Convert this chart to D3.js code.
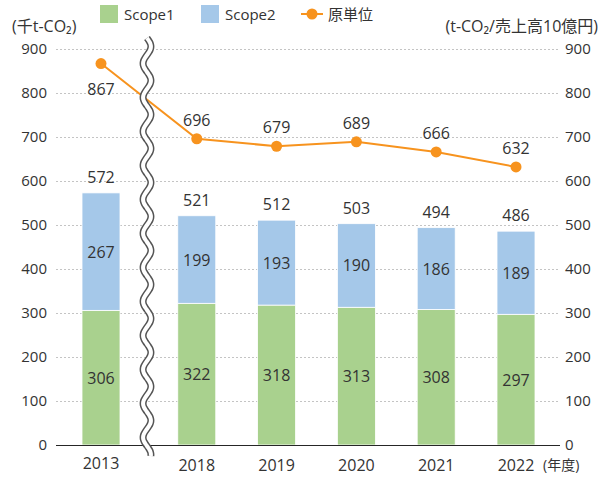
<!DOCTYPE html>
<html>
<head>
<meta charset="utf-8">
<script src="https://cdn.jsdelivr.net/npm/d3@7"></script>
<style>
  body { margin: 0; background: #ffffff; }
  svg text { font-family: "Open Sans", "Noto Sans CJK JP", sans-serif; fill: #333333; }
</style>
</head>
<body>
<div class="chart"></div>
<script>
// Data.
const years = ["2013", "2018", "2019", "2020", "2021", "2022"];
const scope1 = [306, 322, 318, 313, 308, 297];
const scope2 = [267, 199, 193, 190, 186, 189];
const totals = [572, 521, 512, 503, 494, 486];
const intensity = [867, 696, 679, 689, 666, 632];
const yTicks = [0, 100, 200, 300, 400, 500, 600, 700, 800, 900];

const width = 599, height = 478;
const plot = { left: 56, right: 560, top: 49, bottom: 445 };
const barWidth = 38;
// 2013 is separated from the rest by a break, so its slot is wider.
const breakGap = 1.2;

const svg = d3.select(".chart").append("svg")
  .attr("width", width)
  .attr("height", height);

// Slot position for each year: 0, then 1.2, 2.2, ...
const slot = years.map((d, i) => i === 0 ? 0 : i - 1 + breakGap);
const x = d3.scaleLinear()
  .domain([0, slot[slot.length - 1]])
  .range([101, 516]);
const y = d3.scaleLinear()
  .domain([0, 900])
  .range([plot.bottom, plot.top]);

// Dotted grid lines.
svg.append("g")
  .selectAll("line")
  .data(yTicks.filter(d => d > 0))
  .join("line")
  .attr("x1", plot.left)
  .attr("x2", plot.right)
  .attr("y1", d => y(d) + 0.5)
  .attr("y2", d => y(d) + 0.5)
  .attr("stroke", "#c4c4c4")
  .attr("stroke-width", 1)
  .attr("stroke-dasharray", "2,2");

// Left and right axis labels.
const leftAxis = svg.append("g")
  .attr("transform", `translate(${plot.left - 9},0)`)
  .call(d3.axisLeft(y).tickValues(yTicks).tickSize(0).tickPadding(0));
const rightAxis = svg.append("g")
  .attr("transform", `translate(${plot.right + 5},0)`)
  .call(d3.axisRight(y).tickValues(yTicks).tickSize(0).tickPadding(0));
[leftAxis, rightAxis].forEach(a => {
  a.select(".domain").remove();
  a.selectAll("text").style("font-size", "15px").attr("fill", "#333333");
});

// Stacked bars.
const rows = years.map((yr, i) => ({ yr, i, s1: scope1[i], s2: scope2[i], total: totals[i] }));
const bars = svg.append("g");
bars.selectAll(".s1")
  .data(rows)
  .join("rect")
  .attr("class", "s1")
  .attr("x", d => x(slot[d.i]) - barWidth / 2)
  .attr("y", d => y(d.s1))
  .attr("width", barWidth)
  .attr("height", d => y(0) - y(d.s1))
  .attr("fill", "#a9d18e")
  .attr("stroke", "#ffffff")
  .attr("stroke-width", 0.8);
bars.selectAll(".s2")
  .data(rows)
  .join("rect")
  .attr("class", "s2")
  .attr("x", d => x(slot[d.i]) - barWidth / 2)
  .attr("y", d => y(d.s1 + d.s2))
  .attr("width", barWidth)
  .attr("height", d => y(d.s1) - y(d.s1 + d.s2))
  .attr("fill", "#a5c8e9")
  .attr("stroke", "#ffffff")
  .attr("stroke-width", 0.8);

// Baseline.
svg.append("line")
  .attr("x1", plot.left)
  .attr("x2", plot.right)
  .attr("y1", y(0) + 0.5)
  .attr("y2", y(0) + 0.5)
  .attr("stroke", "#262626")
  .attr("stroke-width", 1.2);

// Bar value labels.
const labels = svg.append("g")
  .attr("text-anchor", "middle")
  .style("font-size", "16px");
labels.selectAll(".l1")
  .data(rows)
  .join("text")
  .attr("x", d => x(slot[d.i]))
  .attr("y", d => y(d.s1 / 2) + 6)
  .text(d => d.s1);
labels.selectAll(".l2")
  .data(rows)
  .join("text")
  .attr("x", d => x(slot[d.i]))
  .attr("y", d => y(d.s1 + d.s2 / 2) + 6)
  .text(d => d.s2);
labels.selectAll(".lt")
  .data(rows)
  .join("text")
  .attr("x", d => x(slot[d.i]))
  .attr("y", d => y(d.total) - 10)
  .text(d => d.total);

// Intensity line on the right axis (same 0-900 range).
const line = d3.line()
  .x((d, i) => x(slot[i]))
  .y(d => y(d));
svg.append("path")
  .datum(intensity)
  .attr("d", line)
  .attr("fill", "none")
  .attr("stroke", "#f7931e")
  .attr("stroke-width", 2);
svg.append("g")
  .selectAll("circle")
  .data(intensity)
  .join("circle")
  .attr("cx", (d, i) => x(slot[i]))
  .attr("cy", d => y(d))
  .attr("r", 5.5)
  .attr("fill", "#f7931e");
svg.append("g")
  .attr("text-anchor", "middle")
  .style("font-size", "16px")
  .selectAll("text")
  .data(intensity)
  .join("text")
  .attr("x", (d, i) => x(slot[i]))
  .attr("y", (d, i) => i === 0 ? y(d) + 31 : y(d) - 13)
  .text(d => d);

// Axis break: two wavy lines with white fill between them.
const breakX = 147;
const waveTop = 38, waveBottom = 456;
const wave = [];
for (let t = waveTop; t <= waveBottom; t += 2) {
  wave.push([breakX + 4 * Math.sin((t - waveTop) / 34 * 2 * Math.PI), t]);
}
const waveLine = d3.line().curve(d3.curveBasis);
svg.append("path")
  .attr("d", waveLine(wave))
  .attr("fill", "none")
  .attr("stroke", "#555555")
  .attr("stroke-width", 7);
svg.append("path")
  .attr("d", waveLine(wave))
  .attr("fill", "none")
  .attr("stroke", "#ffffff")
  .attr("stroke-width", 4);

// Category labels on the x axis.
svg.append("g")
  .attr("text-anchor", "middle")
  .style("font-size", "16px")
  .selectAll("text")
  .data(years)
  .join("text")
  .attr("x", (d, i) => x(slot[i]))
  .attr("y", (d, i) => i === 0 ? 469 : 471)
  .text(d => d);
svg.append("text")
  .attr("x", 543)
  .attr("y", 470)
  .style("font-size", "14px")
  .text("(年度)");

// Unit titles.
svg.append("text")
  .attr("x", 12)
  .attr("y", 32)
  .style("font-size", "16px")
  .text("(千t-CO₂)");
svg.append("text")
  .attr("x", 598)
  .attr("y", 32)
  .attr("text-anchor", "end")
  .style("font-size", "16px")
  .text("(t-CO₂/売上高10億円)");

// Legend.
const legend = svg.append("g").style("font-size", "15px");
legend.append("rect").attr("x", 100).attr("y", 5).attr("width", 18).attr("height", 18).attr("fill", "#a9d18e");
legend.append("text").attr("x", 124).attr("y", 20).text("Scope1");
legend.append("rect").attr("x", 201).attr("y", 5).attr("width", 18).attr("height", 18).attr("fill", "#a5c8e9");
legend.append("text").attr("x", 225).attr("y", 20).text("Scope2");
legend.append("line").attr("x1", 301).attr("x2", 323).attr("y1", 14).attr("y2", 14)
  .attr("stroke", "#f7931e").attr("stroke-width", 2);
legend.append("circle").attr("cx", 312).attr("cy", 14).attr("r", 5.5).attr("fill", "#f7931e");
legend.append("text").attr("x", 328).attr("y", 20).text("原単位");
</script>
</body>
</html>
